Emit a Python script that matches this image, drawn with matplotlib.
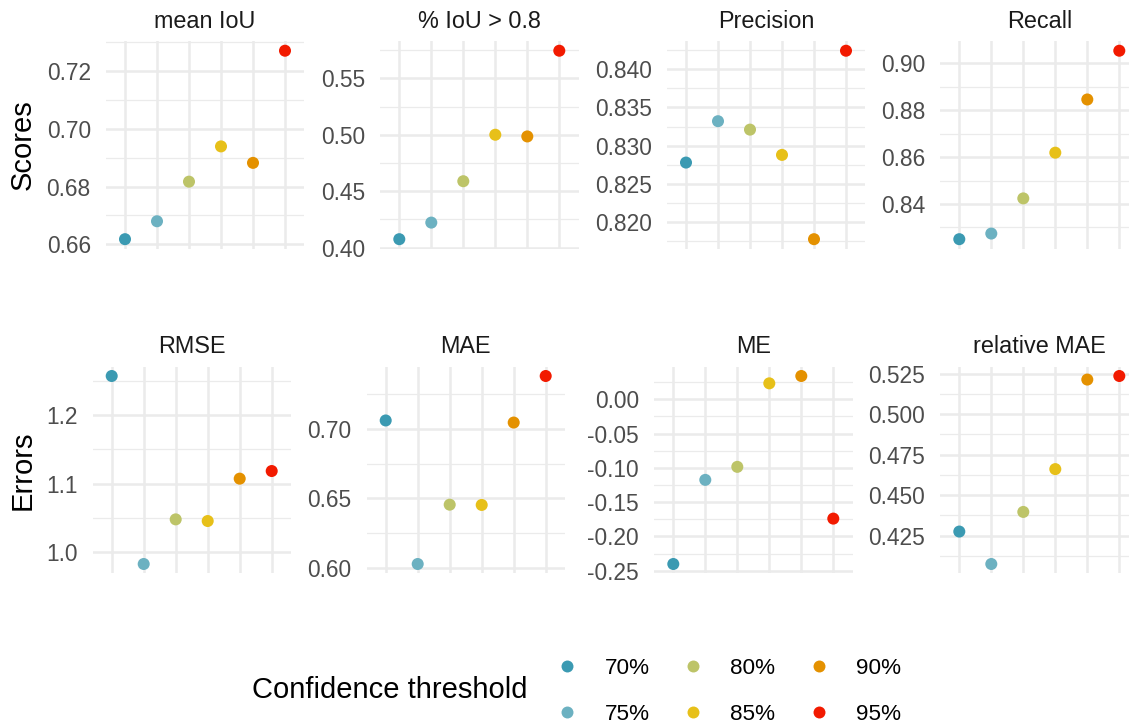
import matplotlib.pyplot as plt
from matplotlib.ticker import MultipleLocator, FuncFormatter
from matplotlib.lines import Line2D

plt.rcParams["font.family"] = ["Liberation Sans", "DejaVu Sans"]

thresholds = ["70%", "75%", "80%", "85%", "90%", "95%"]
colors = ["#3B9AB2", "#6CB1C1", "#BDC468", "#E7C019", "#E49100", "#F21A00"]

# scores
mean_iou = [0.6618, 0.6680, 0.6817, 0.6939, 0.6882, 0.7270]
iou_08 = [0.4074, 0.4221, 0.4588, 0.5000, 0.4985, 0.5745]
precision = [0.8278, 0.8332, 0.8321, 0.8288, 0.8178, 0.8424]
recall = [0.8250, 0.8274, 0.8424, 0.8619, 0.8846, 0.9054]

# errors
rmse = [1.2568, 0.9830, 1.0480, 1.0456, 1.1073, 1.1184]
mae = [0.7060, 0.6027, 0.6454, 0.6452, 0.7045, 0.7380]
me = [-0.2402, -0.1175, -0.0985, 0.0233, 0.0340, -0.1740]
rel_mae = [0.4276, 0.4076, 0.4397, 0.4661, 0.5213, 0.5235]

W, H = 1129, 726
PANEL_W = 198.4


def fmt(decimals):
    def f(v, pos):
        s = "{:.{}f}".format(v, decimals)
        if s.startswith("-") and float(s) == 0:
            s = s[1:]
        return s
    return FuncFormatter(f)


def panel(fig, left, top, h, title, values, step, decimals):
    ax = fig.add_axes([left / W, 1 - (top + h) / H, PANEL_W / W, h / H])
    x = range(1, len(values) + 1)
    ax.scatter(x, values, c=colors, s=75, linewidths=0, zorder=3)
    lo, hi = min(values), max(values)
    pad = 0.05 * (hi - lo)
    ax.set_ylim(lo - pad, hi + pad)
    ax.set_xlim(0.4, len(values) + 0.6)
    ax.set_xticks(list(x))
    ax.yaxis.set_major_locator(MultipleLocator(step))
    ax.yaxis.set_minor_locator(MultipleLocator(step / 2))
    ax.yaxis.set_major_formatter(fmt(decimals))
    ax.set_axisbelow(True)
    ax.grid(which="major", color="#EBEBEB", linewidth=1.8)
    ax.grid(which="minor", axis="y", color="#EBEBEB", linewidth=0.9)
    for s in ax.spines.values():
        s.set_visible(False)
    ax.tick_params(which="both", length=0)
    ax.tick_params(axis="y", pad=10.8, labelsize=16.4, labelcolor="#4D4D4D")
    ax.tick_params(axis="x", labelbottom=False)
    ax.text(0.5, 1 + 13.5 / h, title, transform=ax.transAxes, ha="center",
            va="baseline", fontsize=16.8, color="#1A1A1A")
    return ax


def main():
    fig = plt.figure(figsize=(W / 100, H / 100), dpi=100)

    top_row = [
        (105.8, "mean IoU", mean_iou, 0.02, 2),
        (380.1, "% IoU > 0.8", iou_08, 0.05, 2),
        (666.8, "Precision", precision, 0.005, 3),
        (940.1, "Recall", recall, 0.02, 2),
    ]
    bottom_row = [
        (92.5, "RMSE", rmse, 0.1, 1),
        (366.5, "MAE", mae, 0.05, 2),
        (654.1, "ME", me, 0.05, 2),
        (940.1, "relative MAE", rel_mae, 0.025, 3),
    ]
    for left, title, vals, step, dec in top_row:
        panel(fig, left, 41.3, 207.3, title, vals, step, dec)
    for left, title, vals, step, dec in bottom_row:
        panel(fig, left, 366.6, 206.8, title, vals, step, dec)

    fig.text(23 / W, 1 - 145 / H, "Scores", rotation=90, ha="center",
             va="center", fontsize=21)
    fig.text(23 / W, 1 - 470 / H, "Errors", rotation=90, ha="center",
             va="center", fontsize=21)

    # legend: title on the left, keys in a 2x3 grid
    fig.text(252 / W, 1 - 690 / H, "Confidence threshold", ha="left",
             va="center", fontsize=21)
    handles = [
        Line2D([], [], marker="o", linestyle="", color=c, markersize=8.6,
               markeredgewidth=0)
        for c in colors
    ]
    fig.legend(handles, thresholds, ncol=3, loc="upper left",
               bbox_to_anchor=(556 / W, 1 - 658 / H), frameon=False,
               fontsize=16.2, handlelength=1.0, handletextpad=1.15,
               columnspacing=1.45, labelspacing=1.1, borderpad=0,
               borderaxespad=0)

    fig.savefig("out.png", dpi=100)


if __name__ == "__main__":
    main()
